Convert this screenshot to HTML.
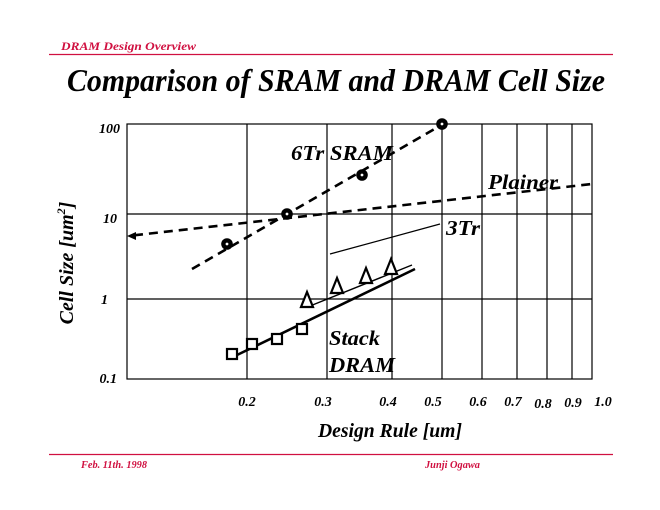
<!DOCTYPE html>
<html>
<head>
<meta charset="utf-8">
<style>
html,body{margin:0;padding:0;background:#fff;}
svg{display:block;}
text{font-family:"Liberation Serif",serif;font-weight:bold;font-style:italic;}
</style>
</head>
<body>
<svg width="660" height="510" viewBox="0 0 660 510" xmlns="http://www.w3.org/2000/svg">
<rect width="660" height="510" fill="#fff"/>
<!-- header -->
<text x="61" y="50" font-size="12" fill="#d01040" textLength="135" lengthAdjust="spacingAndGlyphs">DRAM Design Overview</text>
<line x1="49" y1="54.5" x2="613" y2="54.5" stroke="#d01040" stroke-width="1.3"/>
<text x="67" y="91" font-size="32" fill="#000" textLength="538" lengthAdjust="spacingAndGlyphs">Comparison of SRAM and DRAM Cell Size</text>

<!-- grid -->
<g stroke="#000" stroke-width="1.2" fill="none">
<rect x="127" y="124" width="465" height="255"/>
<line x1="127" y1="214" x2="592" y2="214"/>
<line x1="127" y1="299" x2="592" y2="299"/>
<line x1="247" y1="124" x2="247" y2="379"/>
<line x1="327" y1="124" x2="327" y2="379"/>
<line x1="392" y1="124" x2="392" y2="379"/>
<line x1="442" y1="124" x2="442" y2="379"/>
<line x1="482" y1="124" x2="482" y2="379"/>
<line x1="517" y1="124" x2="517" y2="379"/>
<line x1="547" y1="124" x2="547" y2="379"/>
<line x1="572" y1="124" x2="572" y2="379"/>
</g>

<!-- y tick labels -->
<g font-size="14" fill="#000" text-anchor="end">
<text x="120" y="133">100</text>
<text x="117" y="223">10</text>
<text x="108" y="304">1</text>
<text x="117" y="383">0.1</text>
</g>
<!-- x tick labels -->
<g font-size="14" fill="#000" text-anchor="middle">
<text x="247" y="406">0.2</text>
<text x="323" y="406">0.3</text>
<text x="388" y="406">0.4</text>
<text x="433" y="406">0.5</text>
<text x="478" y="406">0.6</text>
<text x="513" y="406">0.7</text>
<text x="543" y="408">0.8</text>
<text x="573" y="407">0.9</text>
<text x="603" y="406">1.0</text>
</g>

<!-- axis titles -->
<text x="318" y="437" font-size="20" fill="#000" textLength="144" lengthAdjust="spacingAndGlyphs">Design Rule [um]</text>
<text transform="translate(73,263) rotate(-90)" text-anchor="middle" font-size="20" fill="#000">Cell Size [um<tspan font-size="12" dy="-8">2</tspan><tspan dy="8">]</tspan></text>

<!-- Plainer dashed -->
<line x1="134" y1="235.3" x2="592" y2="184" stroke="#000" stroke-width="2.6" stroke-dasharray="9 6"/>
<polygon points="127,236 136,232 136,240" fill="#000"/>
<!-- SRAM dashed -->
<line x1="192" y1="269" x2="438" y2="127" stroke="#000" stroke-width="2.6" stroke-dasharray="9 6"/>
<!-- SRAM circles -->
<g fill="#000">
<circle cx="227" cy="244" r="5.8"/>
<circle cx="287" cy="214" r="5.8"/>
<circle cx="362" cy="175" r="5.8"/>
<circle cx="442" cy="124" r="5.8"/>
</g>
<g fill="#fff">
<circle cx="227" cy="244" r="1.4"/>
<circle cx="287" cy="214" r="1.4"/>
<circle cx="362" cy="175" r="1.4"/>
<circle cx="442" cy="124" r="1.4"/>
</g>

<!-- 3Tr thin line -->
<line x1="330" y1="254" x2="440" y2="224" stroke="#000" stroke-width="1.2"/>
<!-- triangle line -->
<line x1="310" y1="306" x2="412" y2="265" stroke="#000" stroke-width="1.4"/>
<!-- stack thick line -->
<line x1="237" y1="355" x2="415" y2="269" stroke="#000" stroke-width="2.6"/>

<!-- triangles -->
<g fill="#fff" stroke="#000" stroke-width="2.2">
<polygon points="307,292 301,307 313,307"/>
<polygon points="337,278 331,293 343,293"/>
<polygon points="366,268 360,283 372,283"/>
<polygon points="391,259 385,274 397,274"/>
</g>
<!-- squares -->
<g fill="#fff" stroke="#000" stroke-width="2.2">
<rect x="227" y="349" width="10" height="10"/>
<rect x="247" y="339" width="10" height="10"/>
<rect x="272" y="334" width="10" height="10"/>
<rect x="297" y="324" width="10" height="10"/>
</g>

<!-- series labels -->
<g font-size="21" fill="#000">
<text x="291" y="160" textLength="102" lengthAdjust="spacingAndGlyphs">6Tr SRAM</text>
<text x="488" y="189" textLength="70" lengthAdjust="spacingAndGlyphs">Plainer</text>
<text x="446" y="235" textLength="34" lengthAdjust="spacingAndGlyphs">3Tr</text>
<text x="329" y="345" textLength="51" lengthAdjust="spacingAndGlyphs">Stack</text>
<text x="329" y="372" textLength="66" lengthAdjust="spacingAndGlyphs">DRAM</text>
</g>

<!-- footer -->
<line x1="49" y1="454.5" x2="613" y2="454.5" stroke="#d01040" stroke-width="1.3"/>
<text x="81" y="468" font-size="10" fill="#d01040" textLength="66" lengthAdjust="spacingAndGlyphs">Feb.  11th. 1998</text>
<text x="425" y="468" font-size="10" fill="#d01040" textLength="55" lengthAdjust="spacingAndGlyphs">Junji  Ogawa</text>
</svg>
</body>
</html>
